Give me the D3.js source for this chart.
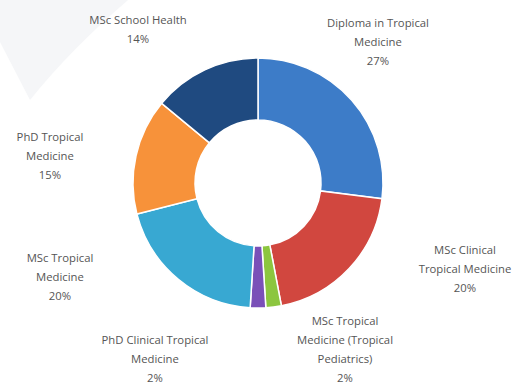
<!DOCTYPE html>
<html>
<head>
<meta charset="utf-8">
<script src="https://cdn.jsdelivr.net/npm/d3@7"></script>
<style>
  html, body { margin: 0; padding: 0; background: #ffffff; }
  svg { display: block; }
  text { font-family: "Open Sans", "Noto Sans", sans-serif; fill: #555555; }
</style>
</head>
<body>
<svg id="chart" width="531" height="385"></svg>
<script>
// Programme enrolment share, clockwise from 12 o'clock
const programmes = [
  "Diploma in Tropical Medicine",
  "MSc Clinical Tropical Medicine",
  "MSc Tropical Medicine (Tropical Pediatrics)",
  "PhD Clinical Tropical Medicine",
  "MSc Tropical Medicine",
  "PhD Tropical Medicine",
  "MSc School Health"
];
const shares = [27, 20, 2, 2, 20, 15, 14];
const sliceColors = ["#3d7cc8", "#d1473f", "#8cc63f", "#7a50b8", "#38a8d2", "#f7923a", "#1f4a80"];
// Wrapped label lines for each programme
const labelLines = [
  ["Diploma in Tropical", "Medicine"],
  ["MSc Clinical", "Tropical Medicine"],
  ["MSc Tropical", "Medicine (Tropical", "Pediatrics)"],
  ["PhD Clinical Tropical", "Medicine"],
  ["MSc Tropical", "Medicine"],
  ["PhD Tropical", "Medicine"],
  ["MSc School Health"]
];
// Label anchor points (centre x, first line centre y)
const labelAnchors = [
  [378, 23], [465, 250], [345, 321], [155, 340], [60, 258], [50, 137], [138, 20]
];

const svg = d3.select("#chart");

// faint decorative backdrop shape at the top-left
svg.append("path")
  .attr("d", "M0,0 L128,0 Q70,50 30,100 L0,42 Z")
  .attr("fill", "#f5f6f8");

const cx = 258, cy = 183, outerR = 125, innerR = 63;

const pie = d3.pie().sort(null).value(d => d)(shares);
const arc = d3.arc().innerRadius(innerR).outerRadius(outerR);

const g = svg.append("g").attr("transform", `translate(${cx},${cy})`);
g.selectAll("path.slice")
  .data(pie)
  .join("path")
  .attr("class", "slice")
  .attr("d", arc)
  .attr("fill", (d, i) => sliceColors[i])
  .attr("stroke", "#ffffff")
  .attr("stroke-width", 1.5);

const lineH = 19;
const labels = svg.append("g");
programmes.forEach((name, i) => {
  const [x, y] = labelAnchors[i];
  const lines = labelLines[i].concat([shares[i] + "%"]);
  const t = labels.append("text")
    .attr("text-anchor", "middle")
    .attr("font-size", 11.3);
  lines.forEach((ln, k) => {
    t.append("tspan")
      .attr("x", x)
      .attr("y", y + k * lineH)
      .attr("dy", "0.35em")
      .text(ln);
  });
});
</script>
</body>
</html>
